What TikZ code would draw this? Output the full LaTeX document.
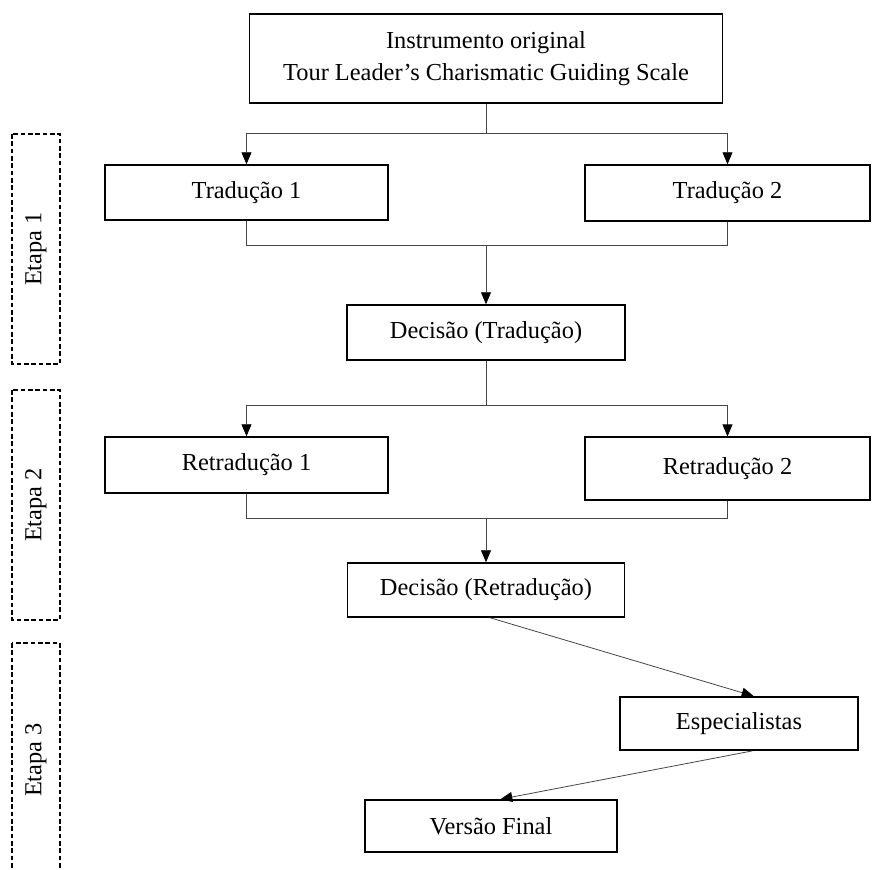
\documentclass[tikz,border=0pt]{standalone}
\usepackage{fontspec}
\setmainfont{Liberation Serif}
\usetikzlibrary{arrows.meta}

\tikzset{every picture/.style={line width=0.75pt}}
\tikzset{
  box/.style={draw=black, line width=1.1pt, rectangle, inner sep=0pt, align=center,
    font=\fontsize{18.3}{24}\selectfont},
  stage/.style={draw=black, line width=1pt, dash pattern=on 3.5pt off 2pt},
  stagelabel/.style={rotate=90, font=\fontsize{18.3}{24}\selectfont},
  link/.style={draw={rgb,255:red,70;green,70;blue,70}, line width=0.6pt},
  linkarrow/.style={link, -{Triangle[length=9pt,width=7.5pt,color=black]}},
}

\begin{document}
\begin{tikzpicture}[x=0.75pt,y=0.75pt,yscale=-1,xscale=1]
\useasboundingbox (0,0) rectangle (888,870);
\clip (0,0) rectangle (888,870);

%Shape: Rectangle (stages)
\draw [stage] (12,134) rectangle (60,364);
\draw [stage] (12,390) rectangle (60,620);
\draw [stage] (12,643) rectangle (60,900);

% Text Node
\draw (36,249) node [stagelabel] (etapa1) {Etapa 1};
% Text Node
\draw (36,505) node [stagelabel] (etapa2) {Etapa 2};
% Text Node
\draw (36,760) node [stagelabel] (etapa3) {Etapa 3};

% Boxes
\node [box, minimum width=355pt, minimum height=66.75pt] (orig) at (486,58.5) {Instrumento original\\Tour Leader’s Charismatic Guiding Scale};
\node [box, minimum width=212pt, minimum height=41.25pt] (trad1) at (246.5,192.5) {Tradução 1};
\node [box, minimum width=214pt, minimum height=42pt] (trad2) at (727.5,193) {Tradução 2};
\node [box, minimum width=208.5pt, minimum height=41.25pt] (dec1) at (486,332.5) {Decisão (Tradução)};
\node [box, minimum width=212pt, minimum height=42pt] (retr1) at (246.5,465) {Retradução 1};
\node [box, minimum width=214pt, minimum height=47pt] (retr2) at (727.5,468.5) {Retradução 2};
\node [box, minimum width=208pt, minimum height=40.5pt] (dec2) at (486,590) {Decisão (Retradução)};
\node [box, minimum width=178.5pt, minimum height=40pt] (esp) at (739,723.5) {Especialistas};
\node [box, minimum width=189pt, minimum height=39pt] (final) at (491,826) {Versão Final};

% Junctions
\coordinate (split1) at (486,133);
\coordinate (merge1) at (486,245);
\coordinate (split2) at (486,405);
\coordinate (merge2) at (486,518);

%Straight Lines
\draw [link] (orig.south) -- (split1);
\draw [linkarrow] (split1) -| (trad1.north);
\draw [linkarrow] (split1) -| (trad2.north);
\draw [link] (trad1.south) |- (merge1);
\draw [link] (trad2.south) |- (merge1);
\draw [linkarrow] (merge1) -- (dec1.north);

\draw [link] (dec1.south) -- (split2);
\draw [linkarrow] (split2) -| (retr1.north);
\draw [linkarrow] (split2) -| (retr2.north);
\draw [link] (retr1.south) |- (merge2);
\draw [link] (retr2.south) |- (merge2);
\draw [linkarrow] (merge2) -- (dec2.north);

\draw [linkarrow] ([xshift=3pt]dec2.south) -- ([xshift=11pt]esp.north);
\draw [linkarrow] ([xshift=10pt]esp.south) -- ([xshift=7pt]final.north);

\end{tikzpicture}
\end{document}
